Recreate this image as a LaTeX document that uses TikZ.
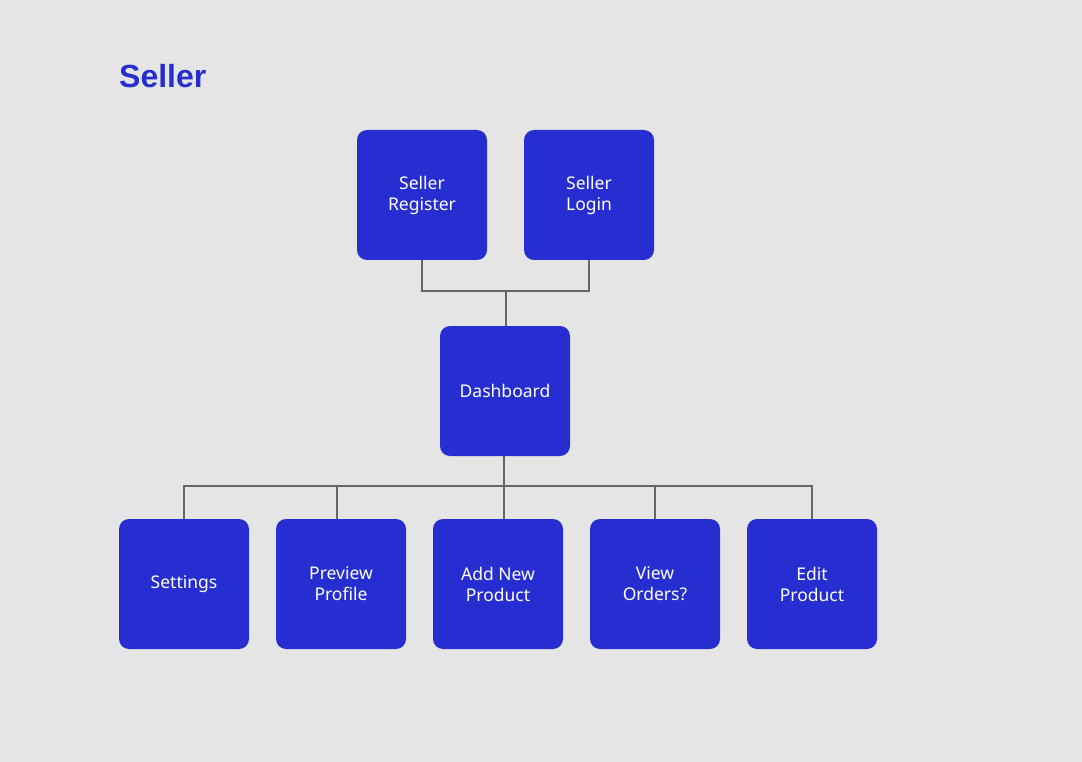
\documentclass[tikz,border=0pt]{standalone}
\usepackage{fontspec}
\setmainfont{Noto Sans}
\newfontfamily\headfont{Liberation Sans}
\definecolor{sellerblue}{HTML}{262ED1}
\definecolor{bggray}{HTML}{E5E5E5}
\definecolor{linegray}{HTML}{666666}

\begin{document}
\begin{tikzpicture}[x=1pt,y=-1pt,
        box/.style={fill=sellerblue, rounded corners=10pt, minimum width=130pt, minimum height=130pt,
            text=white, align=center, inner sep=0pt, font=\fontsize{17.5}{21}\selectfont},
        link/.style={draw=linegray, line width=1.8pt}]
        \fill [bggray] (0,0) rectangle (1082,762);
        \node [anchor=west, inner sep=0pt, text=sellerblue, font=\fontsize{32}{36}\headfont\bfseries] (title) at (119,76) {Seller};
        % top row
        \node [box] (register) at (422,195) {Seller\\Register};
        \node [box] (login) at (589,195) {Seller\\Login};
        \node [box] (dashboard) at (505,391) {Dashboard};
        % bottom row
        \node [box] (settings) at (184,584) {Settings};
        \node [box] (preview) at (341,584) {Preview\\Profile};
        \node [box] (addproduct) at (498,584) {Add New\\Product};
        \node [box] (orders) at (655,584) {View\\Orders?};
        \node [box] (editproduct) at (812,584) {Edit\\Product};
        % connectors
        \coordinate (topjoin) at (506,291);
        \coordinate (botjoin) at (504,486);
        \draw [link] (register.south) |- (topjoin) -| (login.south);
        \draw [link] (topjoin) -- (topjoin |- dashboard.north);
        \draw [link] (botjoin |- dashboard.south) -- (botjoin |- addproduct.north);
        \draw [link] (settings.north) |- (botjoin) -| (editproduct.north);
        \draw [link] ([xshift=-4pt]preview.north) -- ([xshift=-4pt]preview.north |- botjoin);
        \draw [link] (orders.north) -- (orders.north |- botjoin);
    \end{tikzpicture}
\end{document}
